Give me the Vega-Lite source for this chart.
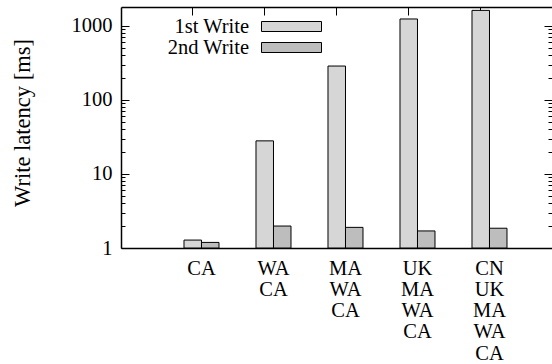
{
  "$schema": "https://vega.github.io/schema/vega-lite/v6.json",
  "width": 431,
  "height": 241,
  "autosize": {"type": "none"},
  "padding": {"left": 121, "top": 7, "right": 0, "bottom": 116},
  "background": "white",
  "config": {
    "view": {"stroke": null},
    "font": "Liberation Serif",
    "axis": {
      "grid": false,
      "labelFont": "Liberation Serif",
      "labelFontSize": 20.5,
      "labelColor": "black",
      "domainColor": "black",
      "domainWidth": 1.5,
      "tickColor": "black",
      "tickWidth": 1,
      "titleFont": "Liberation Serif",
      "titleFontWeight": "normal",
      "titleColor": "black"
    }
  },
  "data": {
    "values": [
      {"route": "CA", "write": "1st Write", "ms": 1.28},
      {"route": "CA", "write": "2nd Write", "ms": 1.19},
      {"route": "WA CA", "write": "1st Write", "ms": 28},
      {"route": "WA CA", "write": "2nd Write", "ms": 1.98},
      {"route": "MA WA CA", "write": "1st Write", "ms": 287},
      {"route": "MA WA CA", "write": "2nd Write", "ms": 1.9},
      {"route": "UK MA WA CA", "write": "1st Write", "ms": 1240},
      {"route": "UK MA WA CA", "write": "2nd Write", "ms": 1.7},
      {"route": "CN UK MA WA CA", "write": "1st Write", "ms": 1620},
      {"route": "CN UK MA WA CA", "write": "2nd Write", "ms": 1.85}
    ]
  },
  "layer": [
    {
      "mark": {"type": "bar", "stroke": "black", "strokeWidth": 1},
      "encoding": {
        "x": {
          "field": "route",
          "type": "nominal",
          "sort": ["CA", "WA CA", "MA WA CA", "UK MA WA CA", "CN UK MA WA CA"],
          "scale": {"paddingInner": 0.51389, "paddingOuter": 0.75, "align": 0.5833},
          "axis": {
            "orient": "bottom",
            "title": null,
            "ticks": false,
            "bandPosition": 0.25,
            "labelAngle": 0,
            "labelAlign": "center",
            "labelBaseline": "top",
            "labelPadding": 10,
            "labelLineHeight": 21.3,
            "labelExpr": "split(datum.label, ' ')"
          }
        },
        "xOffset": {
          "field": "write",
          "type": "nominal",
          "sort": ["1st Write", "2nd Write"],
          "scale": {"paddingInner": 0, "paddingOuter": 0}
        },
        "y": {
          "field": "ms",
          "type": "quantitative",
          "scale": {"type": "log", "domain": [1, 1800], "nice": false},
          "axis": {
            "orient": "left",
            "values": [1, 2, 3, 4, 5, 6, 7, 8, 9, 10, 20, 30, 40, 50, 60, 70, 80, 90, 100, 200, 300, 400, 500, 600, 700, 800, 900, 1000],
            "labelExpr": "indexof([1, 10, 100, 1000], datum.value) >= 0 ? '' + datum.value : ''",
            "tickSize": {"condition": {"test": "indexof([1, 10, 100, 1000], datum.value) >= 0", "value": -8}, "value": -4},
            "labelPadding": 17,
            "labelBaseline": "middle",
            "title": "Write latency [ms]",
            "titleFontSize": 22.5,
            "titleAngle": -90,
            "titleAlign": "center",
            "titleBaseline": "alphabetic",
            "titleX": -91.5,
            "titleY": 115.5
          }
        },
        "y2": {"datum": 1},
        "fill": {
          "field": "write",
          "type": "nominal",
          "scale": {"domain": ["1st Write", "2nd Write"], "range": ["#d6d6d6", "#bdbdbd"]},
          "legend": {
            "title": null,
            "orient": "none",
            "legendX": 160,
            "legendY": 9,
            "padding": 0,
            "rowPadding": -1,
            "symbolType": "M-3,-0.5H3V0.5H-3Z",
            "symbolSize": 400,
            "symbolStrokeColor": "black",
            "symbolStrokeWidth": 1,
            "symbolOpacity": 1,
            "labelAlign": "right",
            "labelOffset": -53,
            "labelLimit": 300,
            "labelFont": "Liberation Serif",
            "labelFontSize": 20.5,
            "labelColor": "black"
          }
        }
      }
    },
    {
      "mark": {"type": "bar", "opacity": 0},
      "encoding": {
        "x": {
          "field": "route",
          "type": "nominal",
          "sort": ["CA", "WA CA", "MA WA CA", "UK MA WA CA", "CN UK MA WA CA"],
          "axis": {
            "orient": "top",
            "title": null,
            "labels": false,
            "bandPosition": 0.25,
            "tickSize": -8
          }
        },
        "xOffset": {"field": "write", "type": "nominal", "sort": ["1st Write", "2nd Write"]},
        "y": {
          "field": "ms",
          "type": "quantitative",
          "axis": {
            "orient": "right",
            "title": null,
            "labels": false,
            "domain": false,
            "values": [1, 2, 3, 4, 5, 6, 7, 8, 9, 10, 20, 30, 40, 50, 60, 70, 80, 90, 100, 200, 300, 400, 500, 600, 700, 800, 900, 1000],
            "tickSize": {"condition": {"test": "indexof([1, 10, 100, 1000], datum.value) >= 0", "value": -8}, "value": -4}
          }
        },
        "y2": {"datum": 1}
      }
    }
  ],
  "resolve": {"axis": {"x": "independent", "y": "independent"}}
}
